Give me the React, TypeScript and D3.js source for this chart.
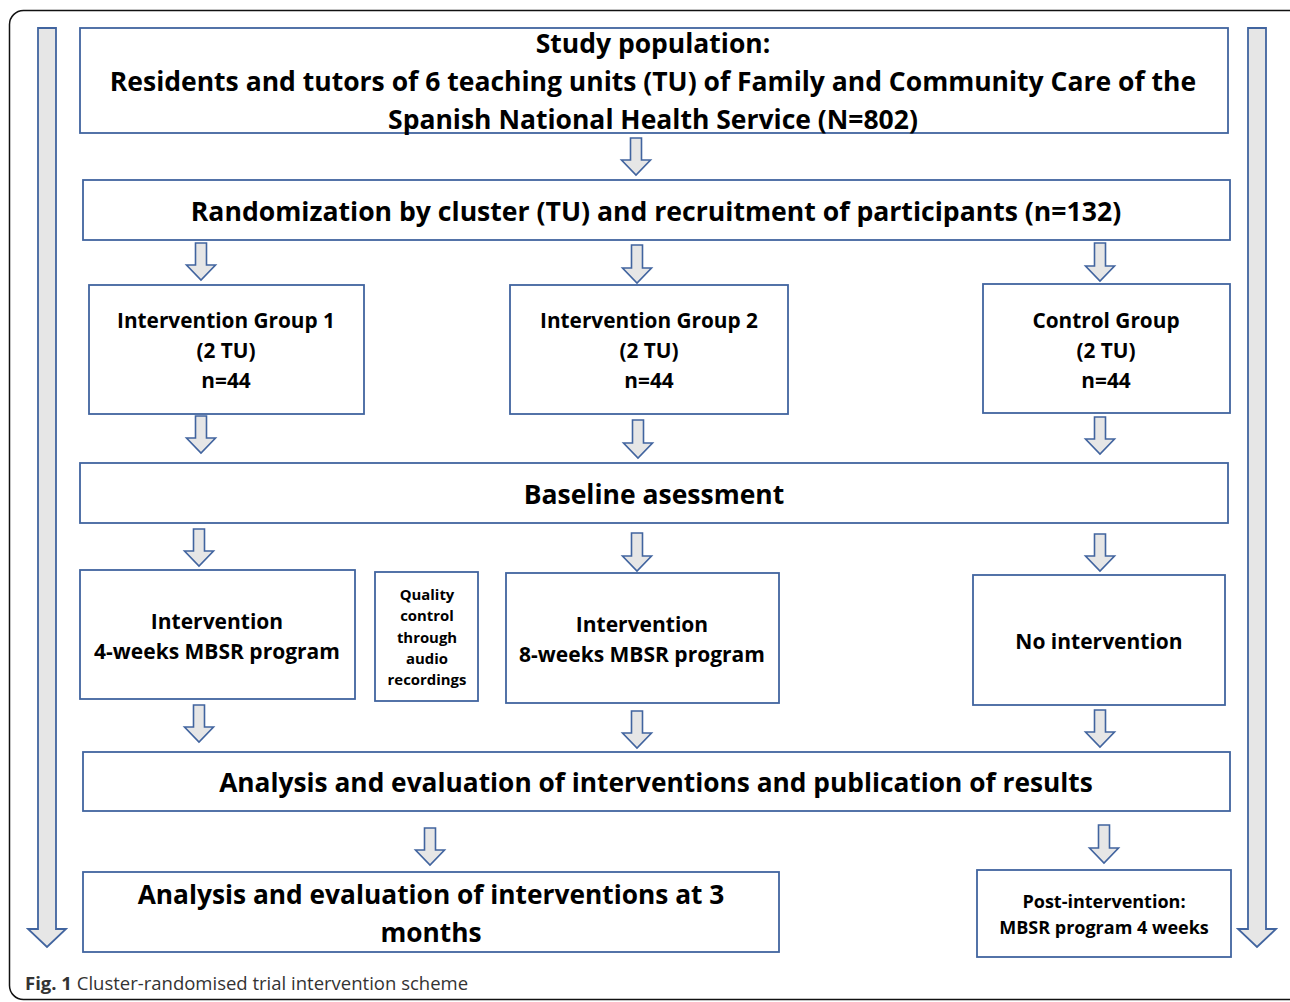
import React from "react";
import * as d3 from "d3";

const W = 1290;
const H = 1002;

type Box = { x0: number; y0: number; x1: number; y1: number; lines: string[]; cy: number[]; size: number };

const studyLines = [
  "Study population:",
  "Residents and tutors of 6 teaching units (TU) of Family and Community Care of the",
  "Spanish National Health Service (N=802)",
];
const randomLines = ["Randomization by cluster (TU) and recruitment of participants (n=132)"];
const group1Lines = ["Intervention Group 1", "(2 TU)", "n=44"];
const group2Lines = ["Intervention Group 2", "(2 TU)", "n=44"];
const controlLines = ["Control Group", "(2 TU)", "n=44"];
const baselineLines = ["Baseline asessment"];
const int4Lines = ["Intervention", "4-weeks MBSR program"];
const qualityLines = ["Quality", "control", "through", "audio", "recordings"];
const int8Lines = ["Intervention", "8-weeks MBSR program"];
const noIntLines = ["No intervention"];
const analysisLines = ["Analysis and evaluation of interventions and publication of results"];
const threeMonthLines = ["Analysis and evaluation of interventions at 3", "months"];
const postLines = ["Post-intervention:", "MBSR program 4 weeks"];
const captionBold = "Fig. 1";
const captionText = " Cluster-randomised trial intervention scheme";

const boxes: Box[] = [
  { x0: 80, y0: 28, x1: 1228, y1: 133, lines: studyLines, cy: [43, 81, 119], size: 26.5 },
  { x0: 83, y0: 180, x1: 1230, y1: 240, lines: randomLines, cy: [211], size: 26.6 },
  { x0: 89, y0: 285, x1: 364, y1: 414, lines: group1Lines, cy: [320, 350, 380], size: 20.8 },
  { x0: 510, y0: 285, x1: 788, y1: 414, lines: group2Lines, cy: [320, 350, 380], size: 20.8 },
  { x0: 983, y0: 284, x1: 1230, y1: 413, lines: controlLines, cy: [320, 350, 380], size: 20.8 },
  { x0: 80, y0: 463, x1: 1228, y1: 523, lines: baselineLines, cy: [494], size: 26.5 },
  { x0: 80, y0: 570, x1: 355, y1: 699, lines: int4Lines, cy: [621, 651], size: 21 },
  { x0: 375, y0: 572, x1: 478, y1: 701, lines: qualityLines, cy: [594, 615, 637, 658, 679], size: 14.9 },
  { x0: 506, y0: 573, x1: 779, y1: 703, lines: int8Lines, cy: [624, 654], size: 21 },
  { x0: 973, y0: 575, x1: 1225, y1: 705, lines: noIntLines, cy: [641], size: 21 },
  { x0: 83, y0: 752, x1: 1230, y1: 811, lines: analysisLines, cy: [782], size: 26.3 },
  { x0: 83, y0: 872, x1: 779, y1: 952, lines: threeMonthLines, cy: [894, 932], size: 26.3 },
  { x0: 977, y0: 870, x1: 1231, y1: 957, lines: postLines, cy: [901, 927], size: 18 },
];
const boxCx = [653, 656, 226, 649, 1106, 654, 217, 427, 642, 1099, 656, 431, 1104];

// small arrows: center x, top y, tip y
const smallArrows: [number, number, number][] = [
  [636, 138, 175],
  [201, 243, 280],
  [637, 245, 283],
  [1100, 243, 281],
  [201, 416, 453],
  [638, 420, 458],
  [1100, 417, 454],
  [199, 529, 566],
  [637, 533, 571],
  [1100, 534, 571],
  [199, 705, 742],
  [637, 711, 748],
  [1100, 710, 747],
  [430, 828, 865],
  [1104, 825, 863],
];

function arrowPath(cx: number, top: number, tip: number, shaftHalf: number, headHalf: number, headLen: number) {
  const p = d3.path();
  const hy = tip - headLen;
  p.moveTo(cx - shaftHalf, top);
  p.lineTo(cx + shaftHalf, top);
  p.lineTo(cx + shaftHalf, hy);
  p.lineTo(cx + headHalf, hy);
  p.lineTo(cx, tip);
  p.lineTo(cx - headHalf, hy);
  p.lineTo(cx - shaftHalf, hy);
  p.closePath();
  return p.toString();
}

const BLUE = "#41649f";
const FILL = "#e6e6e6";
const FONT = "'Open Sans', Lato, sans-serif";

export default function App() {
  return (
    <svg width={W} height={H} style={{ position: "absolute", left: 0, top: 0, background: "#fff" }}>
      <rect x={0} y={0} width={W} height={H} fill="#fff" />
      <rect x={9.5} y={10.5} width={1300} height={989} rx={14} ry={14} fill="none" stroke="#111" strokeWidth={1.5} />
      {/* big side arrows */}
      <path d={arrowPath(47, 28, 947, 9, 19, 18)} fill={FILL} stroke={BLUE} strokeWidth={1.8} strokeLinejoin="miter" />
      <path d={arrowPath(1257, 28, 947, 9, 19, 18)} fill={FILL} stroke={BLUE} strokeWidth={1.8} strokeLinejoin="miter" />
      {smallArrows.map(([cx, t, b], i) => (
        <path key={i} d={arrowPath(cx, t, b, 5.5, 14.5, 15)} fill={FILL} stroke={BLUE} strokeWidth={1.6} />
      ))}
      {boxes.map((b, i) => (
        <g key={i}>
          <rect x={b.x0} y={b.y0} width={b.x1 - b.x0} height={b.y1 - b.y0} fill="#fff" stroke={BLUE} strokeWidth={1.8} />
          {b.lines.map((l, j) => (
            <text
              key={j}
              x={boxCx[i]}
              y={b.cy[j]}
              textAnchor="middle"
              dominantBaseline="central"
              fontFamily={FONT}
              fontWeight="bold"
              fontSize={b.size}
              fill="#000"
            >
              {l}
            </text>
          ))}
        </g>
      ))}
      <text x={25} y={990} fontFamily={FONT} fontSize={18.5} fill="#333">
        <tspan fontWeight="bold">{captionBold}</tspan>
        <tspan>{captionText}</tspan>
      </text>
    </svg>
  );
}
